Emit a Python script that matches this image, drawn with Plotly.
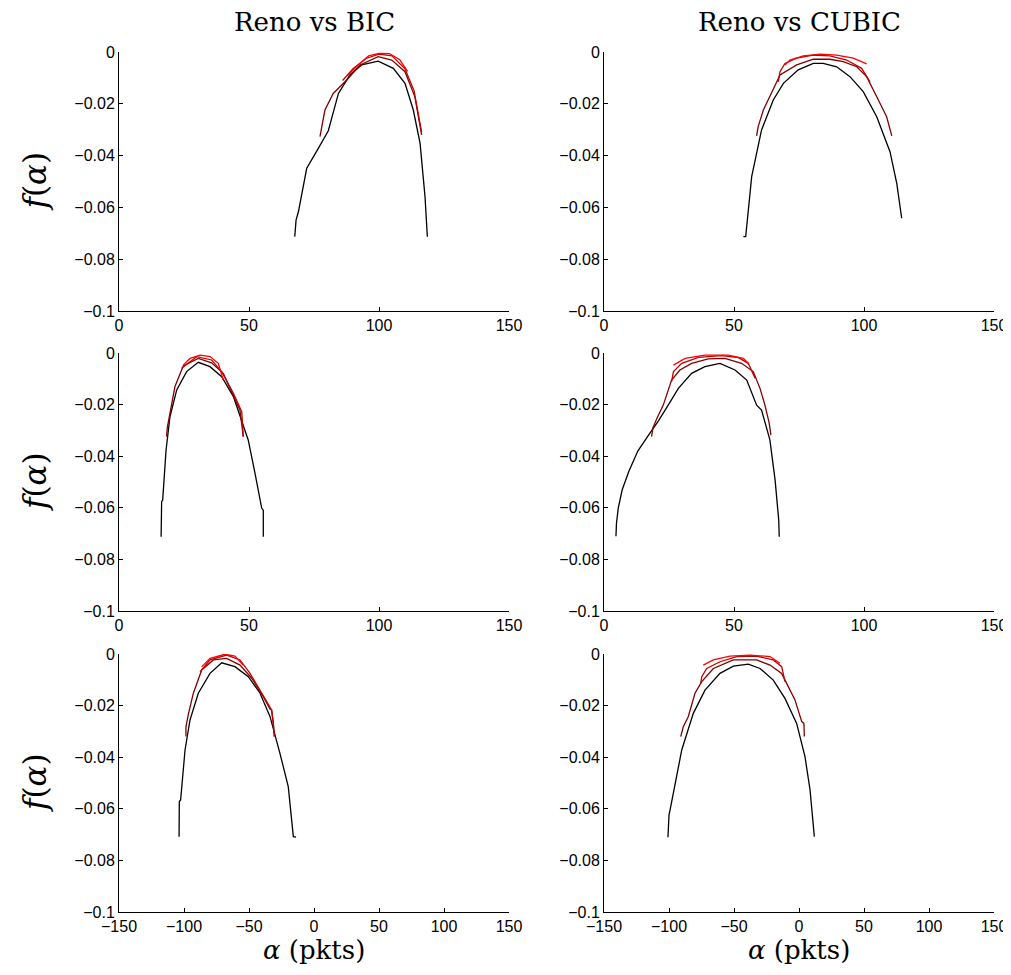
import plotly.graph_objects as go

# ---------------- data ----------------
# Panel 1: Reno vs BIC, row 1
p1_k_x = [67.6, 68.1, 69.0, 72.2, 76.5, 80.5, 84.4, 88.8, 93.3, 99.7, 105.5, 110.0, 113.2, 115.8, 117.7, 118.6]
p1_k_y = [-0.0713, -0.0649, -0.0617, -0.0449, -0.0375, -0.0304, -0.0160, -0.0089, -0.0050, -0.0035, -0.0063, -0.0121, -0.0224, -0.0353, -0.0559, -0.0713]
p1_d_x = [77.3, 79.2, 82.4, 87.6, 92.7, 99.7, 104.9, 110.0, 113.8, 116.4]
p1_d_y = [-0.0327, -0.0224, -0.0160, -0.0108, -0.0050, -0.0018, -0.0031, -0.0076, -0.0173, -0.0320]
p1_m_x = [86.0, 90.0, 95.0, 100.0, 105.0, 110.0, 113.5, 116.4]
p1_m_y = [-0.0110, -0.0065, -0.0025, -0.0008, -0.0015, -0.0065, -0.0150, -0.0310]
p1_r_x = [88.0, 92.0, 96.0, 100.0, 104.0, 108.0, 111.0]
p1_r_y = [-0.0090, -0.0050, -0.0015, -0.0005, -0.0006, -0.0030, -0.0075]

# Panel 2: Reno vs CUBIC, row 1
p2_k_x = [53.6, 54.5, 56.8, 60.6, 65.1, 69.0, 74.7, 80.5, 84.3, 89.5, 94.6, 99.7, 104.9, 110.0, 112.6, 114.5]
p2_k_y = [-0.0713, -0.0713, -0.0481, -0.0301, -0.0185, -0.0121, -0.0069, -0.0044, -0.0044, -0.0057, -0.0095, -0.0153, -0.0250, -0.0385, -0.0507, -0.0642]
p2_d_x = [58.7, 59.3, 61.3, 64.5, 67.7, 74.1, 80.5, 86.9, 92.0, 97.2, 101.0, 104.9, 108.7, 110.7]
p2_d_y = [-0.0324, -0.0288, -0.0224, -0.0153, -0.0089, -0.0050, -0.0028, -0.0028, -0.0037, -0.0057, -0.0095, -0.0173, -0.0250, -0.0324]
p2_m_x = [67.0, 67.7, 69.6, 74.1, 80.5, 86.9, 93.3, 99.1, 102.3]
p2_m_y = [-0.0115, -0.0076, -0.0044, -0.0024, -0.0012, -0.0015, -0.0031, -0.0063, -0.0115]
p2_r_x = [69.6, 71.5, 76.7, 83.1, 89.5, 95.9, 101.0]
p2_r_y = [-0.0050, -0.0031, -0.0015, -0.0008, -0.0012, -0.0024, -0.0046]

# Panel 3: Reno vs BIC, row 2
p3_k_x = [16.2, 16.4, 16.8, 18.1, 19.6, 22.2, 26.0, 30.5, 35.0, 39.5, 44.0, 49.7, 52.3, 54.9, 55.5, 55.5]
p3_k_y = [-0.0712, -0.0576, -0.0570, -0.0376, -0.0247, -0.0143, -0.0072, -0.0036, -0.0053, -0.0092, -0.0169, -0.0337, -0.0466, -0.0602, -0.0609, -0.0712]
p3_d_x = [18.3, 18.6, 21.5, 24.7, 30.5, 35.6, 40.1, 46.5, 47.8]
p3_d_y = [-0.0324, -0.0288, -0.0131, -0.0050, -0.0021, -0.0038, -0.0079, -0.0221, -0.0324]
p3_m_x = [24.1, 29.9, 35.6, 39.5, 44.0, 47.2, 47.8]
p3_m_y = [-0.0059, -0.0014, -0.0027, -0.0072, -0.0156, -0.0227, -0.0324]
p3_r_x = [24.7, 27.3, 31.2, 35.0, 38.2, 40.1]
p3_r_y = [-0.0047, -0.0021, -0.0008, -0.0014, -0.0040, -0.0105]

# Panel 4: Reno vs CUBIC, row 2
p4_k_x = [4.6, 4.8, 5.5, 7.0, 9.5, 13.0, 17.0, 21.0, 24.7, 28.6, 33.7, 38.8, 44.6, 50.4, 54.9, 58.7, 60.6, 63.8, 65.8, 67.2, 67.4]
p4_k_y = [-0.0710, -0.0660, -0.0600, -0.0530, -0.0460, -0.0380, -0.0320, -0.0262, -0.0202, -0.0137, -0.0079, -0.0053, -0.0040, -0.0066, -0.0105, -0.0202, -0.0221, -0.0337, -0.0492, -0.0647, -0.0712]
p4_d_x = [18.3, 18.8, 20.5, 22.8, 26.0, 29.2, 33.7, 40.1, 46.5, 52.9, 57.4, 60.0, 61.9, 63.5, 64.2]
p4_d_y = [-0.0324, -0.0290, -0.0250, -0.0202, -0.0105, -0.0066, -0.0040, -0.0023, -0.0021, -0.0040, -0.0072, -0.0137, -0.0202, -0.0270, -0.0318]
p4_m_x = [26.0, 26.7, 29.9, 36.3, 45.3, 51.7, 55.5, 58.1]
p4_m_y = [-0.0111, -0.0072, -0.0040, -0.0017, -0.0010, -0.0018, -0.0040, -0.0098]
p4_r_x = [26.7, 31.2, 38.8, 47.8, 53.6, 55.5]
p4_r_y = [-0.0047, -0.0021, -0.0008, -0.0008, -0.0021, -0.0040]

# Panel 5: Reno vs BIC, row 3
p5_k_x = [-103.8, -103.6, -102.6, -99.2, -95.4, -89.0, -80.0, -71.0, -60.8, -50.5, -41.5, -33.8, -26.2, -19.8, -15.9, -13.8]
p5_k_y = [-0.0708, -0.0572, -0.0566, -0.0372, -0.0256, -0.0152, -0.0075, -0.0034, -0.0049, -0.0088, -0.0152, -0.0243, -0.0385, -0.0514, -0.0708, -0.0710]
p5_d_x = [-98.5, -98.5, -96.5, -92.8, -86.4, -77.4, -67.2, -56.9, -47.9, -39.0, -33.8, -32.6, -31.3, -30.5]
p5_d_y = [-0.0320, -0.0282, -0.0230, -0.0152, -0.0062, -0.0023, -0.0017, -0.0043, -0.0094, -0.0165, -0.0214, -0.0217, -0.0269, -0.0320]
p5_m_x = [-87.7, -80.0, -67.2, -56.9, -49.2, -41.5, -33.8, -32.6, -31.3, -30.5]
p5_m_y = [-0.0069, -0.0023, -0.0004, -0.0023, -0.0075, -0.0140, -0.0210, -0.0217, -0.0269, -0.0320]
p5_r_x = [-86.4, -80.0, -68.5, -60.8, -54.4]
p5_r_y = [-0.0050, -0.0017, -0.0001, -0.0008, -0.0043]

# Panel 6: Reno vs CUBIC, row 3
p6_k_x = [-100.8, -100.0, -99.2, -96.7, -90.2, -81.3, -72.3, -60.8, -50.5, -39.0, -30.0, -19.8, -10.8, -1.8, 4.6, 8.5, 10.5, 11.8]
p6_k_y = [-0.0710, -0.0624, -0.0605, -0.0540, -0.0372, -0.0230, -0.0140, -0.0075, -0.0047, -0.0039, -0.0056, -0.0101, -0.0172, -0.0269, -0.0398, -0.0527, -0.0631, -0.0708]
p6_d_x = [-91.0, -89.0, -85.2, -80.0, -74.8, -65.9, -50.5, -32.6, -22.3, -13.3, -9.5, -3.1, 2.1, 3.8, 4.1]
p6_d_y = [-0.0320, -0.0282, -0.0243, -0.0152, -0.0107, -0.0056, -0.0023, -0.0023, -0.0043, -0.0075, -0.0114, -0.0178, -0.0262, -0.0269, -0.0320]
p6_m_x = [-75.6, -74.8, -71.0, -60.8, -47.9, -32.6, -19.8, -13.3, -10.8]
p6_m_y = [-0.0114, -0.0088, -0.0056, -0.0030, -0.0010, -0.0008, -0.0023, -0.0049, -0.0107]
p6_r_x = [-73.6, -65.9, -53.1, -37.7, -22.3, -14.6]
p6_r_y = [-0.0043, -0.0023, -0.0008, -0.0004, -0.0010, -0.0036]

column_titles = ["Reno vs BIC", "Reno vs CUBIC"]
x_label = "<i>\u03b1</i> (pkts)"
y_label = "<i>f</i>(<i>\u03b1</i>)"
y_tick_vals = [0, -0.02, -0.04, -0.06, -0.08, -0.1]
y_tick_text = ["0", "\u22120.02", "\u22120.04", "\u22120.06", "\u22120.08", "\u22120.1"]
x_ticks_top = [0, 50, 100, 150]
x_ticks_bottom = [-150, -100, -50, 0, 50, 100, 150]

curve_colors = ["#000000", "#800000", "#C00000", "#FF0000"]

panels = [
    [(p1_k_x, p1_k_y), (p1_d_x, p1_d_y), (p1_m_x, p1_m_y), (p1_r_x, p1_r_y)],
    [(p2_k_x, p2_k_y), (p2_d_x, p2_d_y), (p2_m_x, p2_m_y), (p2_r_x, p2_r_y)],
    [(p3_k_x, p3_k_y), (p3_d_x, p3_d_y), (p3_m_x, p3_m_y), (p3_r_x, p3_r_y)],
    [(p4_k_x, p4_k_y), (p4_d_x, p4_d_y), (p4_m_x, p4_m_y), (p4_r_x, p4_r_y)],
    [(p5_k_x, p5_k_y), (p5_d_x, p5_d_y), (p5_m_x, p5_m_y), (p5_r_x, p5_r_y)],
    [(p6_k_x, p6_k_y), (p6_d_x, p6_d_y), (p6_m_x, p6_m_y), (p6_r_x, p6_r_y)],
]

# ---------------- layout ----------------
OFF = 8  # page offset of the figure inside the browser window (body margin)
W, H = 1011 - OFF, 975 - 2 * OFF
col_px = [(119 - OFF, 509 - OFF), (604 - OFF, 994 - OFF)]
row_px = [(52 - OFF, 311 - OFF), (353 - OFF, 611 - OFF), (654 - OFF, 912 - OFF)]

fig = go.Figure()
layout = dict(
    width=W, height=H, autosize=False,
    margin=dict(l=0, r=0, t=0, b=0, pad=0, autoexpand=False),
    paper_bgcolor="white", plot_bgcolor="white",
    showlegend=False,
)

tick_font = dict(family="Liberation Sans, Arial, sans-serif", size=16, color="black")

for i, curves in enumerate(panels):
    r, c = divmod(i, 2)
    xa = "xaxis" if i == 0 else f"xaxis{i+1}"
    ya = "yaxis" if i == 0 else f"yaxis{i+1}"
    xref = "x" if i == 0 else f"x{i+1}"
    yref = "y" if i == 0 else f"y{i+1}"
    x0, x1 = col_px[c]
    y0, y1 = row_px[r]
    xr = [0, 150] if r < 2 else [-150, 150]
    xt = x_ticks_top if r < 2 else x_ticks_bottom
    layout[xa] = dict(
        domain=[x0 / W, x1 / W], anchor=yref, range=xr, automargin=False,
        tickvals=xt, ticktext=[str(v).replace("-", "\u2212") for v in xt],
        showline=True, linecolor="black", linewidth=1,
        ticks="inside", ticklen=4, tickcolor="black",
        showgrid=False, zeroline=False, tickfont=tick_font,
        ticklabeloverflow="allow",
    )
    layout[ya] = dict(
        domain=[1 - y1 / H, 1 - y0 / H], anchor=xref, range=[-0.1, 0.0], automargin=False,
        tickvals=y_tick_vals, ticktext=y_tick_text,
        showline=True, linecolor="black", linewidth=1,
        ticks="inside", ticklen=4, tickcolor="black",
        showgrid=False, zeroline=False, tickfont=tick_font,
    )
    for (cx, cy), col in zip(curves, curve_colors):
        fig.add_trace(go.Scatter(
            x=cx, y=cy, mode="lines", xaxis=xref, yaxis=yref,
            line=dict(color=col, width=1.3), hoverinfo="skip",
        ))

serif = "DejaVu Serif, Liberation Serif, serif"
annotations = []
for c, t in enumerate(column_titles):
    annotations.append(dict(
        text=t, x=(col_px[c][0] + col_px[c][1]) / 2 / W, y=1 - (22 - OFF) / H,
        xref="paper", yref="paper", showarrow=False,
        font=dict(family=serif, size=26, color="black"),
        xanchor="center", yanchor="middle",
    ))
    annotations.append(dict(
        text=x_label, x=(col_px[c][0] + col_px[c][1]) / 2 / W, y=1 - (950 - OFF) / H,
        xref="paper", yref="paper", showarrow=False,
        font=dict(family=serif, size=26, color="black"),
        xanchor="center", yanchor="middle",
    ))
for r in range(3):
    annotations.append(dict(
        text=y_label, x=(35 - OFF) / W, y=1 - ((row_px[r][0] + row_px[r][1]) / 2) / H,
        xref="paper", yref="paper", showarrow=False, textangle=-90,
        font=dict(family=serif, size=31, color="black"),
        xanchor="center", yanchor="middle",
    ))
layout["annotations"] = annotations

fig.update_layout(**layout)
fig.write_html("out.html")
